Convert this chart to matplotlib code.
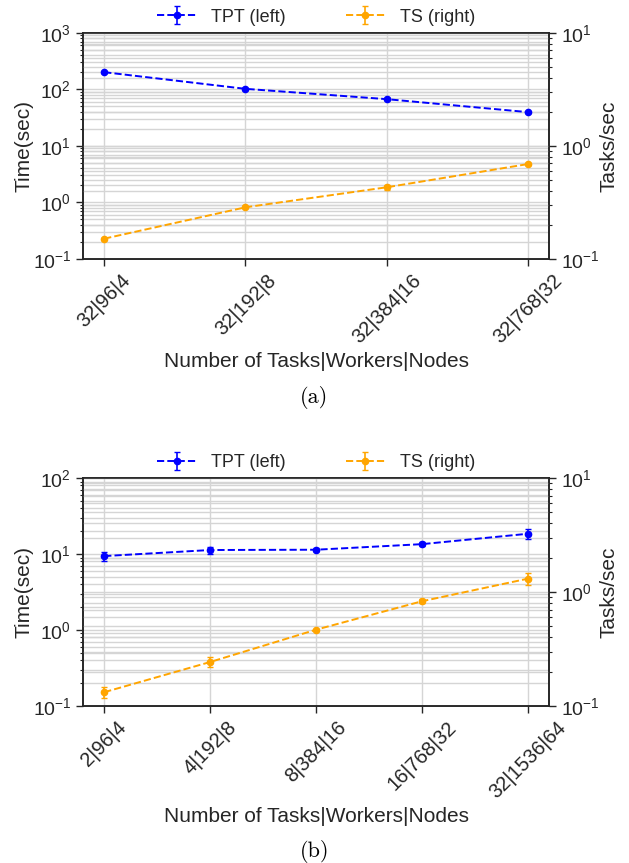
import matplotlib
matplotlib.use('Agg')
import matplotlib.pyplot as plt

plt.rcParams['font.family'] = ['Liberation Sans', 'DejaVu Sans']
plt.rcParams['mathtext.default'] = 'regular'
plt.rcParams['text.color'] = '#262626'
plt.rcParams['axes.labelcolor'] = '#262626'
plt.rcParams['xtick.color'] = '#262626'
plt.rcParams['ytick.color'] = '#262626'

# panel (a)
labels_a = ['32|96|4', '32|192|8', '32|384|16', '32|768|32']
tpt_a = [201, 102, 67, 39.5]
tpt_err_a = [5, 3, 2, 1]
ts_a = [0.151, 0.286, 0.43, 0.69]
ts_err_a = [0.003, 0.005, 0.025, 0.01]

# panel (b)
labels_b = ['2|96|4', '4|192|8', '8|384|16', '16|768|32', '32|1536|64']
tpt_b = [9.4, 11.3, 11.4, 13.5, 18.5]
tpt_err_b = [1.4, 1.2, 0.5, 0.8, 2.8]
ts_b = [0.132, 0.243, 0.467, 0.83, 1.31]
ts_err_b = [0.014, 0.025, 0.01, 0.03, 0.16]


def panel(ax, labels, tpt, tpt_err, ts, ts_err, ylim_left, caption, cap_y):
    x = list(range(len(labels)))
    ax2 = ax.twinx()
    ax.set_yscale('log')
    ax2.set_yscale('log')
    ax.set_ylim(*ylim_left)
    ax2.set_ylim(0.1, 10)
    ax.set_xlim(-0.05 * (len(x) - 1), 1.05 * (len(x) - 1))
    # both lines live in ax2 so they sit above every grid line,
    # TPT is placed through the left axis scale
    h1 = ax2.errorbar(x, tpt, yerr=tpt_err, color='blue', ls='--', marker='o',
                      ms=4.5, lw=1.4, capsize=2, elinewidth=1.2,
                      transform=ax.transData, zorder=3)
    h2 = ax2.errorbar(x, ts, yerr=ts_err, color='orange', ls='--', marker='o',
                      ms=4.5, lw=1.4, capsize=2, elinewidth=1.2, zorder=3)
    ax2.set_ylim(0.1, 10)
    ax.set_xticks(x)
    ax.set_xticklabels(labels, rotation=45, fontsize=14.5)
    ax.set_ylabel('Time(sec)', fontsize=15, labelpad=-1)
    ax2.set_ylabel('Tasks/sec', fontsize=15, labelpad=0)
    ax.set_xlabel('Number of Tasks|Workers|Nodes', fontsize=15)
    ax.tick_params(axis='y', labelsize=14)
    ax2.tick_params(axis='y', labelsize=14)
    for a in (ax, ax2):
        a.tick_params(which='major', length=5, width=1)
        a.tick_params(which='minor', length=2.5, width=0.8)
        for s in a.spines.values():
            s.set_color('#262626')
            s.set_linewidth(1.2)
    ax.grid(True, axis='x', which='major', color='#d5d5d5', lw=1)
    ax.grid(True, axis='y', which='both', color='#d5d5d5', lw=1)
    ax2.grid(True, axis='y', which='both', color='#d5d5d5', lw=1)
    ax.set_axisbelow(True)
    ax2.set_axisbelow(True)
    ax.legend([h1, h2], ['TPT (left)', 'TS (right)'], loc='lower center',
              bbox_to_anchor=(0.5, 1.0), ncol=2, frameon=False, fontsize=13,
              columnspacing=3.3, handlelength=2.2, borderaxespad=0.0)
    ax.figure.text(0.5, cap_y, caption, ha='center', va='center',
                   fontname='cmr10', fontsize=16, color='black')


fig = plt.figure(figsize=(6.29, 8.63), dpi=100)
ax_a = fig.add_axes([0.132, 0.700, 0.741, 0.262])
ax_b = fig.add_axes([0.132, 0.182, 0.741, 0.264])
panel(ax_a, labels_a, tpt_a, tpt_err_a, ts_a, ts_err_a, (0.1, 1000), '(a)', 1 - 397 / 863)
panel(ax_b, labels_b, tpt_b, tpt_err_b, ts_b, ts_err_b, (0.1, 100), '(b)', 1 - 851 / 863)

fig.savefig('out.png', dpi=100)
